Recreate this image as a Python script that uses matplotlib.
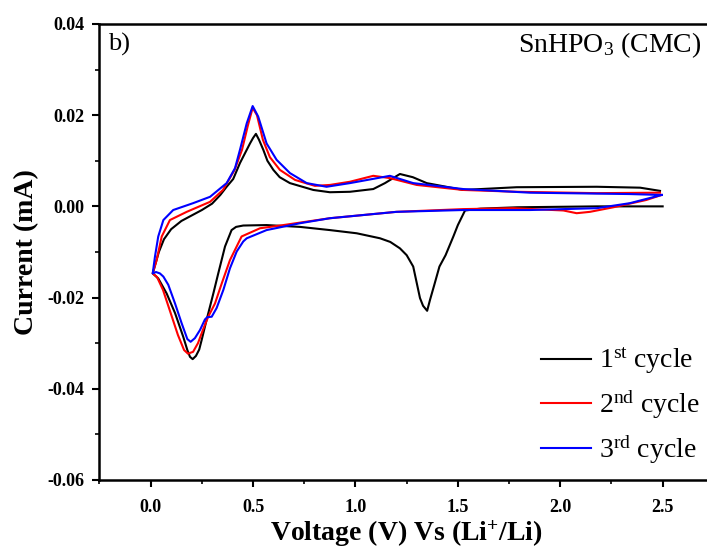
import numpy as np
import matplotlib
matplotlib.use("Agg")
import matplotlib.pyplot as plt
from matplotlib.ticker import MultipleLocator

plt.rcParams['font.family'] = ['Liberation Serif', 'DejaVu Serif']
plt.rcParams['mathtext.fontset'] = 'custom'
plt.rcParams['mathtext.rm'] = 'Liberation Serif'
plt.rcParams['mathtext.it'] = 'Liberation Serif:italic'
plt.rcParams['mathtext.bf'] = 'Liberation Serif:bold'

# CV data of SnHPO3 (CMC binder): voltage (V vs Li+/Li), current (mA)
# 1st cycle: OCV -> 0.01 V -> 2.5 V
v1 = [2.50, 2.18, 1.79, 1.61, 1.535, 1.50, 1.478, 1.44, 1.41, 1.385, 1.364, 1.35,
      1.33, 1.315, 1.282, 1.25, 1.217, 1.17, 1.12, 1.006, 0.875, 0.729, 0.566, 0.452,
      0.417, 0.395, 0.363, 0.330, 0.306, 0.273, 0.249, 0.237, 0.221, 0.205, 0.192,
      0.179, 0.159, 0.119, 0.078, 0.037, 0.010,
      0.022, 0.040, 0.065, 0.100, 0.150, 0.200, 0.250, 0.300, 0.340, 0.371, 0.403,
      0.436, 0.485, 0.500, 0.514, 0.529, 0.550, 0.570, 0.599, 0.630, 0.680, 0.794,
      0.875, 0.973, 1.087, 1.144, 1.217, 1.28, 1.348, 1.526, 1.787, 2.178, 2.39, 2.487]
i1 = [0.0000, 0.0000, -0.0002, -0.0005, -0.0009, -0.0041, -0.0066, -0.0107, -0.0132,
      -0.0172, -0.0205, -0.0229, -0.0218, -0.0201, -0.0132, -0.0107, -0.0092, -0.0078,
      -0.0070, -0.0059, -0.0052, -0.0045, -0.0041, -0.0042, -0.0045, -0.0052, -0.0088,
      -0.0147, -0.0191, -0.0249, -0.0293, -0.0314, -0.0328, -0.0335, -0.0330, -0.0315,
      -0.0286, -0.0234, -0.0191, -0.0158, -0.0147,
      -0.0128, -0.0100, -0.0072, -0.0050, -0.0032, -0.0020, -0.0008, 0.0006, 0.0025,
      0.0043, 0.0060, 0.0095, 0.0138, 0.0150, 0.0159, 0.0146, 0.0124, 0.0100, 0.0080,
      0.0064, 0.0051, 0.0036, 0.0031, 0.0032, 0.0038, 0.0051, 0.0071, 0.0064, 0.0051,
      0.0036, 0.0042, 0.0043, 0.0041, 0.0034]

# 2nd cycle: 2.5 V -> 0.01 V -> 2.5 V
v2 = [2.495, 2.42, 2.259, 2.145, 2.08, 2.015, 1.77, 1.526, 1.20, 0.875, 0.648, 0.534,
      0.444, 0.387, 0.347, 0.314, 0.281, 0.255, 0.231, 0.207, 0.182, 0.163, 0.133,
      0.094, 0.060, 0.031, 0.010,
      0.029, 0.054, 0.094, 0.176, 0.290, 0.353, 0.410, 0.446, 0.475, 0.498, 0.519,
      0.548, 0.582, 0.631, 0.705, 0.802, 0.875, 0.973, 1.087, 1.168, 1.299, 1.526,
      1.787, 2.178, 2.487]
i2 = [0.0025, 0.0014, -0.0002, -0.0012, -0.0015, -0.0009, -0.0004, -0.0006, -0.0012,
      -0.0026, -0.0041, -0.0048, -0.0066, -0.0118, -0.0169, -0.0213, -0.0242, -0.0271,
      -0.0300, -0.0319, -0.0323, -0.0315, -0.0282, -0.0229, -0.0183, -0.0155, -0.0147,
      -0.0118, -0.0066, -0.0030, -0.0012, 0.0010, 0.0036, 0.0080, 0.0124, 0.0178,
      0.0216, 0.0200, 0.0146, 0.0108, 0.0080, 0.0058, 0.0045, 0.0047, 0.0054, 0.0067,
      0.0062, 0.0047, 0.0036, 0.0032, 0.0029, 0.0030]

# 3rd cycle: 2.5 V -> 0.01 V -> 2.5 V
v3 = [2.495, 2.34, 2.178, 1.852, 1.525, 1.20, 0.875, 0.729, 0.566, 0.469, 0.452,
      0.420, 0.387, 0.355, 0.322, 0.298, 0.276, 0.265, 0.241, 0.216, 0.195, 0.179,
      0.151, 0.119, 0.086, 0.062, 0.045, 0.026, 0.010,
      0.021, 0.037, 0.062, 0.110, 0.207, 0.290, 0.371, 0.412, 0.436, 0.469, 0.498,
      0.525, 0.566, 0.615, 0.680, 0.762, 0.859, 0.973, 1.168, 1.282, 1.526, 1.852,
      2.34, 2.495]
i3 = [0.0025, 0.0007, -0.0004, -0.0008, -0.0008, -0.0012, -0.0026, -0.0037, -0.0052,
      -0.0070, -0.0077, -0.0099, -0.0136, -0.0183, -0.0223, -0.0242, -0.0243, -0.0248,
      -0.0271, -0.0289, -0.0297, -0.0291, -0.0256, -0.0213, -0.0172, -0.0154, -0.0147,
      -0.0144, -0.0147,
      -0.0110, -0.0066, -0.0030, -0.0008, 0.0007, 0.0021, 0.0051, 0.0084, 0.0124,
      0.0182, 0.0220, 0.0197, 0.0138, 0.0102, 0.0073, 0.0051, 0.0043, 0.0051, 0.0067,
      0.0051, 0.0038, 0.0030, 0.0027, 0.0025]

labels = [r'1$^{\mathrm{st}}$ cycle', r'2$^{\mathrm{nd}}$ cycle', r'3$^{\mathrm{rd}}$ cycle']
colors = ['black', 'red', 'blue']

fig = plt.figure(figsize=(7.07, 5.51), dpi=100)
ax = fig.add_axes([0.1407, 0.1289, 0.869, 0.8276])

for v, i, lab, c in zip([v1, v2, v3], [i1, i2, i3], labels, colors):
    ax.plot(v, i, color=c, lw=1.5, label=lab)

ax.set_xlim(-0.25, 2.75)
ax.set_ylim(-0.06, 0.04)
ax.xaxis.set_major_locator(MultipleLocator(0.5))
ax.xaxis.set_minor_locator(MultipleLocator(0.25))
ax.yaxis.set_major_locator(MultipleLocator(0.02))
ax.yaxis.set_minor_locator(MultipleLocator(0.01))
ax.xaxis.set_major_formatter(plt.FormatStrFormatter('%.1f'))
ax.yaxis.set_major_formatter(plt.FormatStrFormatter('%.2f'))
ax.tick_params(which='major', direction='out', length=5, width=1.5, labelsize=13, pad=6)
ax.tick_params(axis='x', which='major', pad=9)
ax.tick_params(which='minor', direction='out', length=3, width=1.2)
for lbl in ax.get_xticklabels() + ax.get_yticklabels():
    lbl.set_fontweight('bold')
for s in ['left', 'bottom', 'top']:
    ax.spines[s].set_linewidth(1.8)
ax.spines['right'].set_visible(False)

ax.set_xlabel(r'Voltage (V) Vs (Li$^{\mathbf{+}}$/Li)', fontsize=20, fontweight='bold', labelpad=2)
ax.set_ylabel('Current (mA)', fontsize=20, fontweight='bold', labelpad=6)

ax.text(0.014, 0.954, 'b)', transform=ax.transAxes, fontsize=19, ha='left', va='center')
ax.text(0.979, 0.954, r'SnHPO$_3$ (CMC)', transform=ax.transAxes, fontsize=20,
        ha='right', va='center')

ax.legend(loc='lower right', bbox_to_anchor=(1.0, 0.0), frameon=False, fontsize=20,
          handlelength=1.8, handletextpad=0.3, labelspacing=0.45, borderpad=0)

fig.savefig('out.png', dpi=100)
